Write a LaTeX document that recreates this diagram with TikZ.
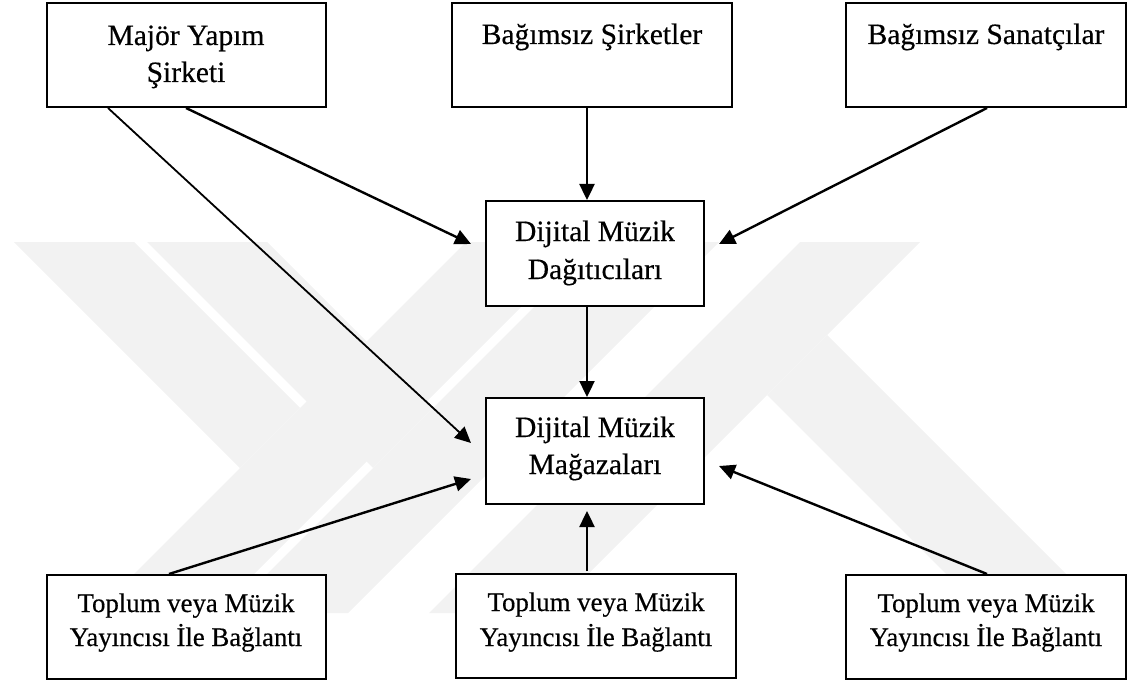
\documentclass[tikz,border=0pt]{standalone}
\usepackage{fontspec}
\setmainfont{Liberation Serif}[FakeBold=0.4]
\usetikzlibrary{arrows.meta}
\begin{document}
\begin{tikzpicture}[x=1pt,y=-1pt,
  box/.style={draw=black,fill=white,line width=2pt,rectangle,inner sep=0pt},
  big/.style={font=\fontsize{29.5}{35}\selectfont,anchor=base,inner sep=0pt},
  small/.style={font=\fontsize{26.8}{32}\selectfont,anchor=base,inner sep=0pt},
  arr/.style={line width=2.4pt,-{Triangle[length=16pt,width=15pt]}},
  wm/.style={fill=black!5,draw=none}]
\useasboundingbox (0,0) rectangle (1128,682);
% watermark
\fill[wm] (14,242) -- (134,242) -- (300,408) -- (240,468) -- cycle;
\fill[wm] (466,242) -- (586,242) -- (215,613) -- (95,613) -- cycle;
\fill[wm] (147,242) -- (267,242) -- (433,408) -- (373,468) -- cycle;
\fill[wm] (599,242) -- (719,242) -- (348,613) -- (228,613) -- cycle;
\fill[wm] (800,242) -- (920,242) -- (549,613) -- (429,613) -- cycle;
\fill[wm] (767,395) -- (827,335) -- (1105,613) -- (985,613) -- cycle;
% boxes
\node[box,minimum width=279pt,minimum height=104pt] (b1) at (186,55) {};
\node[box,minimum width=280pt,minimum height=104pt] (b2) at (592,55) {};
\node[box,minimum width=280pt,minimum height=104pt] (b3) at (986,55) {};
\node[box,minimum width=218pt,minimum height=105pt] (dist) at (595,253.5) {};
\node[box,minimum width=218pt,minimum height=106pt] (store) at (595,451) {};
\node[box,minimum width=279pt,minimum height=104pt] (c1) at (186,627) {};
\node[box,minimum width=280pt,minimum height=104pt] (c2) at (596,626) {};
\node[box,minimum width=280pt,minimum height=104pt] (c3) at (986,627) {};
% texts
\node[big] (t1a) at (186,45) {Majör Yapım};
\node[big] (t1b) at (186,82) {Şirketi};
\node[big] (t2) at (592,44) {Bağımsız Şirketler};
\node[big] (t3) at (986,44) {Bağımsız Sanatçılar};
\node[big] (tda) at (595,241) {Dijital Müzik};
\node[big] (tdb) at (595,279) {Dağıtıcıları};
\node[big] (tsa) at (595,437) {Dijital Müzik};
\node[big] (tsb) at (595,474) {Mağazaları};
\node[small] (tc1a) at (186,612) {Toplum veya Müzik};
\node[small] (tc1b) at (186,646) {Yayıncısı İle Bağlantı};
\node[small] (tc2a) at (596,611) {Toplum veya Müzik};
\node[small] (tc2b) at (596,646) {Yayıncısı İle Bağlantı};
\node[small] (tc3a) at (986,612) {Toplum veya Müzik};
\node[small] (tc3b) at (986,646) {Yayıncısı İle Bağlantı};
% arrow targets
\coordinate (pA) at (471,244);
\coordinate (pB) at (471,443);
\coordinate (pC) at (719,244);
\coordinate (pD) at (471,479);
\coordinate (pE) at (587,511);
\coordinate (pF) at (719,466);
\coordinate (sE) at (587,571);
% connectors
\draw[arr] (b1.south -| 186,0) -- (pA);
\draw[arr,line width=1.8pt] (b1.south -| 108,0) -- (pB);
\draw[arr] (b2.south -| 587,0) -- (dist.north -| 587,0);
\draw[arr] (b3.south -| 987,0) -- (pC);
\draw[arr] (dist.south -| 587,0) -- (store.north -| 587,0);
\draw[arr] (c1.north -| 169,0) -- (pD);
\draw[arr] (sE) -- (pE);
\draw[arr] (c3.north -| 987,0) -- (pF);
\end{tikzpicture}
\end{document}
